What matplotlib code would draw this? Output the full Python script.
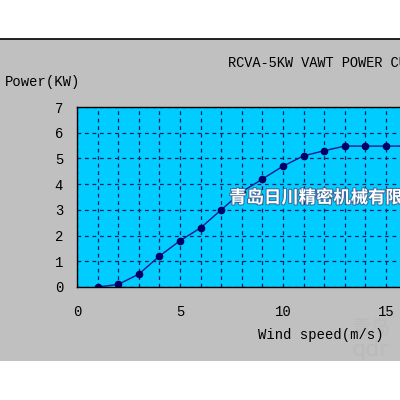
import matplotlib
matplotlib.use('Agg')
import matplotlib.pyplot as plt
import matplotlib.patheffects as pe
from matplotlib.patches import Rectangle
from matplotlib.lines import Line2D

wind_speed = [1, 2, 3, 4, 5, 6, 7, 8, 9, 10, 11, 12, 13, 14, 15, 16, 17, 18]
power_kw = [0, 0.1, 0.5, 1.2, 1.8, 2.3, 3.0, 3.7, 4.2, 4.7, 5.1, 5.3, 5.48, 5.48, 5.48, 5.48, 5.48, 5.48]
x_ticks = [0, 5, 10, 15, 20]
y_ticks = [0, 1, 2, 3, 4, 5, 6, 7]

mono = ['Liberation Mono', 'DejaVu Sans Mono']

fig = plt.figure(figsize=(4, 4), dpi=100)
fig.patch.set_facecolor('white')

# grey panel of the screenshot
fig.patches.append(Rectangle((0, 0.0975), 1, 0.805, transform=fig.transFigure,
                             facecolor='#c0c0c0', edgecolor='none', zorder=-5))
fig.lines.append(Line2D([0, 1], [0.9025, 0.9025], transform=fig.transFigure,
                        color='black', lw=1.2))

ax = fig.add_axes([0.1925, 0.2825, 1.03, 0.45])
ax.set_facecolor('#00ccff')
ax.set_xlim(0, 20)
ax.set_ylim(0, 7)
ax.set_xticks(range(0, 21))
ax.set_yticks(y_ticks)
ax.set_xticklabels([str(v) if v in x_ticks else '' for v in range(0, 21)])
ax.grid(True, color='#10205a', linestyle=(0, (3, 3)), linewidth=0.9)
ax.tick_params(axis='x', length=0, pad=13, labelsize=10)
ax.tick_params(axis='y', length=0, pad=10, labelsize=10)
for lab in ax.get_xticklabels() + ax.get_yticklabels():
    lab.set_family(mono)
for s in ax.spines.values():
    s.set_color('black')
    s.set_linewidth(1.0)

ax.plot(wind_speed, power_kw, color='#1a1a8c', lw=1.0, marker='o',
        markersize=4.5, markerfacecolor='#000066', markeredgecolor='#000066')

fig.text(0.57, 0.842, 'RCVA-5KW VAWT POWER CURVE', family=mono, fontsize=9.8,
         va='center', ha='left', color='black')
fig.text(0.012, 0.795, 'Power(KW)', family=mono, fontsize=10, va='center',
         ha='left', color='black')
fig.text(0.645, 0.162, 'Wind speed(m/s)', family=mono, fontsize=10,
         va='center', ha='left', color='black')

fig.text(0.573, 0.505, '青岛日川精密机械有限公司',
         family=['Noto Sans CJK SC', 'DejaVu Sans'], fontsize=12.5,
         fontweight='bold', color='white', va='center', ha='left',
         path_effects=[pe.withStroke(linewidth=1.5, foreground='#3a6a9a')])

# faint watermark bottom right
fig.text(0.88, 0.178, '青岛', family=['Noto Sans CJK SC', 'DejaVu Sans'],
         fontsize=14, color='#bababa', va='center', ha='left', zorder=-1)
fig.text(0.88, 0.125, 'qdr', family=['DejaVu Sans'], fontsize=16,
         color='#bababa', va='center', ha='left', zorder=-1)

fig.savefig('out.png', dpi=100)
